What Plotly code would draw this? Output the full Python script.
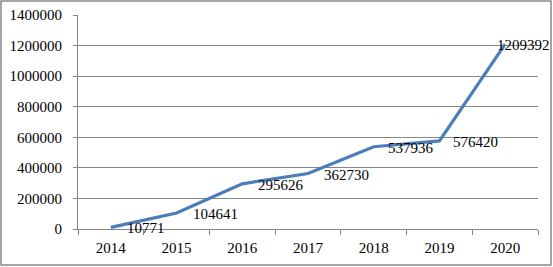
import plotly.graph_objects as go

years = ["2014", "2015", "2016", "2017", "2018", "2019", "2020"]
values = [10771, 104641, 295626, 362730, 537936, 576420, 1209392]
label_shift = [14, 14, 14, 14, 12, 12, -10]

W, H = 553, 267
ml, mr, mt, mb = 78, 15, 15, 38
pw, ph = W - ml - mr, H - mt - mb
SERIF = "Liberation Serif"

fig = go.Figure()
fig.add_trace(go.Scatter(x=years, y=values, mode="lines",
                         line=dict(color="#4A7EBB", width=3.2), hoverinfo="skip"))

for i, (v, s) in enumerate(zip(values, label_shift)):
    fig.add_annotation(x=i, y=v, text=str(v), showarrow=False, xanchor="left",
                       yanchor="middle", xshift=s, yshift=-1,
                       font=dict(family=SERIF, size=15, color="black"))

# outer border
fig.add_shape(type="rect", xref="paper", yref="paper",
              x0=(1 - ml) / pw, x1=(W - 2 - ml) / pw,
              y0=(H - mb - (H - 2)) / ph, y1=(H - mb - 1) / ph,
              line=dict(color="#888888", width=1.5), layer="below")

fig.update_layout(
    width=W, height=H,
    margin=dict(l=ml, r=mr, t=mt, b=mb),
    paper_bgcolor="white", plot_bgcolor="white",
    showlegend=False,
    font=dict(family=SERIF, size=15, color="black"),
    xaxis=dict(type="category", tickson="boundaries", ticks="outside", ticklen=5,
               tickcolor="#868686", showline=True, linecolor="#868686", linewidth=1,
               showgrid=False, zeroline=False, range=[-0.5, 6.5], automargin=False,
               ticklabelstandoff=5,
               tickfont=dict(family=SERIF, size=15, color="black")),
    yaxis=dict(range=[0, 1400000], dtick=200000, tickformat="d", ticks="outside",
               ticklen=4, tickcolor="#868686", showline=True, linecolor="#868686",
               linewidth=1, showgrid=True, gridcolor="#868686", gridwidth=1,
               zeroline=False, automargin=False, ticklabelstandoff=8,
               tickfont=dict(family=SERIF, size=15, color="black")),
)

fig.write_html("out.html", config={"displayModeBar": False, "staticPlot": True},
               post_script="document.body.style.margin='0';document.body.style.overflow='hidden';")
